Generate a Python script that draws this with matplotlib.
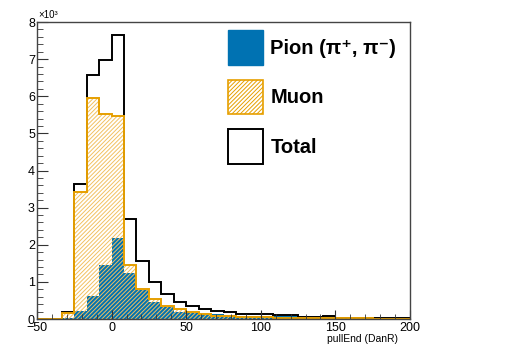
import numpy as np
import matplotlib
matplotlib.use("Agg")
import matplotlib.pyplot as plt
from matplotlib.patches import Patch
from matplotlib.ticker import MultipleLocator

plt.rcParams['font.family'] = ['Liberation Sans', 'DejaVu Sans']
plt.rcParams['hatch.linewidth'] = 0.7

# Histograma: 30 bins entre -50 y 200, contenidos en unidades de 10^3
bin_lo = -50
bin_hi = 200
n_bins = 30

pion = [0, 0, 0.03, 0.22, 0.63, 1.45, 2.17, 1.25, 0.77, 0.47,
        0.32, 0.20, 0.17, 0.13, 0.13, 0.12, 0.08, 0.09, 0.08, 0.08,
        0.08, 0.02, 0.02, 0.06, 0.02, 0.02, 0.02, 0.01, 0.01, 0.01]
muon = [0, 0, 0.17, 3.42, 5.95, 5.52, 5.47, 1.45, 0.80, 0.53,
        0.35, 0.26, 0.18, 0.13, 0.09, 0.08, 0.06, 0.05, 0.05, 0.04,
        0.04, 0.04, 0.03, 0.02, 0.02, 0.02, 0.02, 0.01, 0.01, 0.01]
total = [0, 0, 0.20, 3.64, 6.57, 6.97, 7.64, 2.70, 1.57, 1.00,
         0.67, 0.46, 0.35, 0.26, 0.22, 0.20, 0.14, 0.14, 0.13, 0.12,
         0.12, 0.06, 0.05, 0.08, 0.04, 0.04, 0.04, 0.02, 0.02, 0.02]

labels = ['Pion (π⁺, π⁻)', 'Muon', 'Total']

BLUE = '#0072B2'
ORANGE = '#E69F00'
HATCH = '#F2C060'

edges = np.linspace(bin_lo, bin_hi, n_bins + 1)

fig = plt.figure(figsize=(5.09, 3.5), dpi=100)
ax = fig.add_axes([37/509, 31/350, 373/509, 297/350])

ax.stairs(pion, edges, fill=True, facecolor=BLUE, edgecolor=BLUE, lw=0)
ax.stairs(total, edges, baseline=0, color='black', lw=1.4, clip_on=False)
ax.stairs(muon, edges, fill=True, facecolor='none', edgecolor=HATCH,
          hatch='////////', lw=0)
ax.stairs(muon, edges, baseline=0, color=ORANGE, lw=1.4, clip_on=False)

ax.set_xlim(bin_lo, bin_hi)
ax.set_ylim(0, 8)

ax.xaxis.set_major_locator(MultipleLocator(50))
ax.xaxis.set_minor_locator(MultipleLocator(10))
ax.yaxis.set_major_locator(MultipleLocator(1))
ax.yaxis.set_minor_locator(MultipleLocator(0.2))
ax.tick_params(which='both', direction='in', top=False, right=False,
               labelsize=9, color='#333333')
ax.tick_params(axis='y', which='major', length=8, pad=1.5)
ax.tick_params(axis='y', which='minor', length=4)
ax.tick_params(axis='x', which='major', length=6.5, pad=2.5)
ax.tick_params(axis='x', which='minor', length=3.5)
for s in ax.spines.values():
    s.set_color('#444444')
    s.set_linewidth(1)

ax.set_xlabel('pullEnd (DanR)', fontsize=7.5, loc='right')
ax.xaxis.set_label_coords(0.968, -0.05)
fig.text(38/509, 1 - 15/350, '×10³', fontsize=7, va='center', ha='left')

handles = [Patch(facecolor=BLUE, edgecolor=BLUE),
           Patch(facecolor='white', edgecolor=ORANGE, hatch='////////', lw=1.2),
           Patch(facecolor='white', edgecolor='black', lw=1.4)]
fs = 14.5
ax.legend(handles, labels, loc='upper left',
          bbox_to_anchor=(228/509, 1 - 30/350), bbox_transform=fig.transFigure,
          frameon=False, borderpad=0, borderaxespad=0,
          handlelength=1.74, handleheight=2.27, labelspacing=0.74,
          handletextpad=0.36, prop={'size': fs, 'weight': 'bold'})

fig.savefig('out.png', dpi=100)
